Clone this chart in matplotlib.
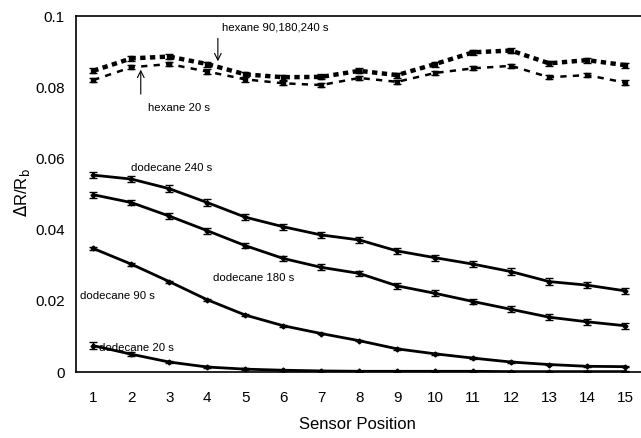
import matplotlib
matplotlib.use("Agg")
import matplotlib.pyplot as plt
import numpy as np

plt.rcParams['font.family'] = ['Liberation Sans', 'DejaVu Sans']

positions = list(range(1, 16))

hexane_long = [0.0846, 0.0881, 0.0886, 0.0865, 0.0836, 0.0828, 0.0829, 0.0846,
               0.0834, 0.0865, 0.0898, 0.0903, 0.0867, 0.0876, 0.0862]
hexane_long_err = [0.0007] * 15
hexane_20 = [0.0820, 0.0856, 0.0865, 0.0844, 0.0822, 0.0811, 0.0806, 0.0826,
             0.0815, 0.0840, 0.0853, 0.0860, 0.0828, 0.0834, 0.0813]
hexane_20_err = [0.0006] * 15

dodecane_240 = [0.0553, 0.0542, 0.0515, 0.0476, 0.0435, 0.0408, 0.0385, 0.0371,
                0.0340, 0.0321, 0.0303, 0.0282, 0.0254, 0.0244, 0.0228]
dodecane_240_err = [0.0009] * 15
dodecane_180 = [0.0498, 0.0476, 0.0438, 0.0397, 0.0355, 0.0319, 0.0294, 0.0277,
                0.0242, 0.0221, 0.0198, 0.0176, 0.0154, 0.0141, 0.0130]
dodecane_180_err = [0.0008] * 15
dodecane_90 = [0.0347, 0.0303, 0.0254, 0.0203, 0.0160, 0.0130, 0.0108, 0.0088,
               0.0065, 0.0051, 0.0039, 0.0028, 0.0021, 0.0016, 0.0015]
dodecane_90_err = [0.0005, 0.0004, 0.0003, 0.0003, 0.0003, 0.0003, 0.0002, 0.0002,
                   0.0002, 0.0002, 0.0002, 0.0002, 0.0002, 0.0002, 0.0002]
dodecane_20 = [0.0074, 0.0050, 0.0028, 0.0014, 0.0008, 0.0005, 0.0003, 0.0002,
               0.0002, 0.0002, 0.0002, 0.0001, 0.0001, 0.0001, 0.0001]
dodecane_20_err = [0.0009, 0.0006, 0.0003, 0.0002, 0.0002, 0.0001, 0.0001, 0.0001,
                   0.0001, 0.0001, 0.0001, 0.0001, 0.0001, 0.0001, 0.0001]

y_ticks = [0, 0.02, 0.04, 0.06, 0.08, 0.1]
y_tick_labels = ["0", "0.02", "0.04", "0.06", "0.08", "0.1"]

fig = plt.figure(figsize=(6.41, 4.38), dpi=100)
ax = fig.add_axes([76 / 641, 66 / 438, 1 - 76 / 641, 356 / 438])

ebkw = dict(color='black', capsize=3, elinewidth=1, capthick=1, markersize=3.5)

ax.errorbar(positions, hexane_long, yerr=hexane_long_err, fmt='s', linestyle=(0, (1.2, 1.0)),
            linewidth=3.2, **ebkw)
ax.errorbar(positions, hexane_20, yerr=hexane_20_err, fmt='s', linestyle=(0, (2.5, 2.5)),
            linewidth=1.8, **ebkw)
for vals, errs in [(dodecane_240, dodecane_240_err), (dodecane_180, dodecane_180_err),
                   (dodecane_90, dodecane_90_err), (dodecane_20, dodecane_20_err)]:
    ax.errorbar(positions, vals, yerr=errs, fmt='D', linestyle='-', linewidth=2.0,
                **dict(ebkw, markersize=2.5))

ax.set_xlim(0.545, 15.42)
ax.set_ylim(0, 0.1)
ax.set_xticks(positions)
ax.set_xticklabels([str(p) for p in positions])
ax.set_yticks(y_ticks)
ax.set_yticklabels(y_tick_labels)
ax.tick_params(axis='x', length=0, pad=14, labelsize=11)
ax.tick_params(axis='y', length=0, pad=8, labelsize=11)
ax.spines['right'].set_visible(False)
for s in ['left', 'bottom', 'top']:
    ax.spines[s].set_linewidth(1.2)

ax.set_xlabel("Sensor Position", fontsize=12)
ax.xaxis.set_label_coords(0.499, -0.126)
ax.set_ylabel(r"$\Delta$R/R$_\mathrm{b}$", fontsize=12)
ax.yaxis.set_label_coords(-0.096, 0.503)
ax.yaxis.label.set_va('center')

tkw = dict(fontsize=8.2, ha='left', va='center')
ax.text(4.38, 0.0967, "hexane 90,180,240 s", **tkw)
ax.annotate("", xy=(4.28, 0.0865), xytext=(4.28, 0.0945),
            arrowprops=dict(arrowstyle='->', lw=0.8, color='black', mutation_scale=12))
ax.text(2.45, 0.0742, "hexane 20 s", **tkw)
ax.annotate("", xy=(2.25, 0.0857), xytext=(2.25, 0.0773),
            arrowprops=dict(arrowstyle='->', lw=0.8, color='black', mutation_scale=12))
ax.text(1.98, 0.0573, "dodecane 240 s", **tkw)
ax.text(4.15, 0.0265, "dodecane 180 s", **tkw)
ax.text(0.65, 0.0214, "dodecane 90 s", **tkw)
ax.text(1.15, 0.0068, "dodecane 20 s", **tkw)

fig.savefig("out.png", dpi=100)
